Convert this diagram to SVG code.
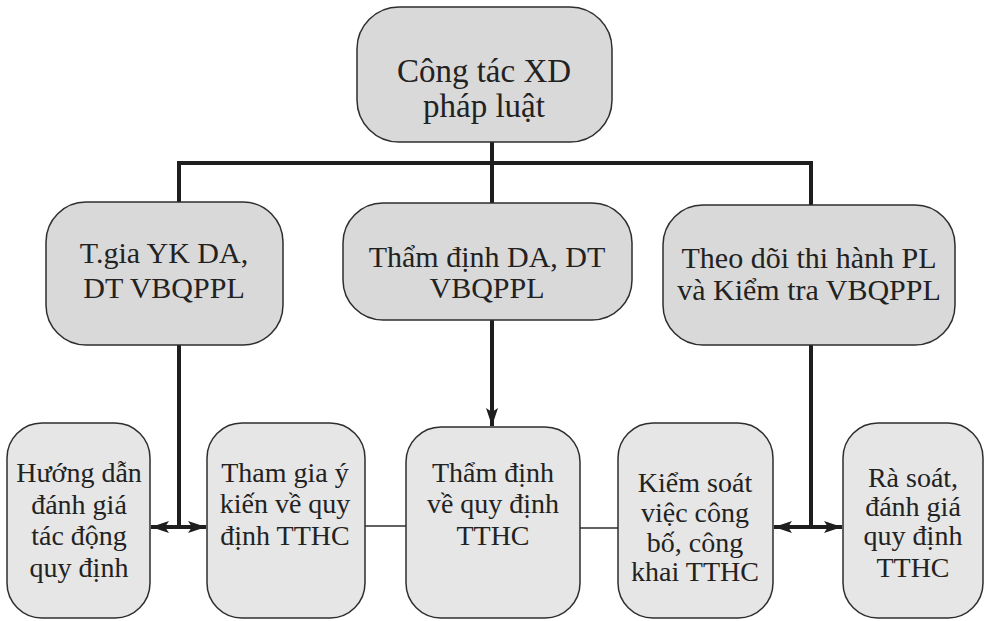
<svg xmlns="http://www.w3.org/2000/svg" width="987" height="621" viewBox="0 0 987 621">
<defs>
<marker id="ah" viewBox="0 0 18 12" refX="18" refY="6" markerWidth="18" markerHeight="12" markerUnits="userSpaceOnUse" orient="auto-start-reverse">
<path d="M0,0 L18,6 L0,12 L4,6 z" fill="#1e1e1e"/>
</marker>
</defs>
<g id="connectors" fill="none" stroke="#1e1e1e">
<line stroke-width="4" x1="492" y1="142" x2="492" y2="163"/>
<polyline stroke-width="4" points="179,202 179,163 811,163 811,205"/>
<line stroke-width="4" x1="492" y1="163" x2="492" y2="203"/>
<line stroke-width="4" x1="179" y1="345" x2="179" y2="527"/>
<line stroke-width="4" x1="151" y1="527" x2="206" y2="527" marker-start="url(#ah)" marker-end="url(#ah)"/>
<line stroke-width="4" x1="492" y1="320" x2="492" y2="426" marker-end="url(#ah)"/>
<line stroke-width="4" x1="811" y1="345" x2="811" y2="527"/>
<line stroke-width="4" x1="774" y1="527" x2="842" y2="527" marker-start="url(#ah)" marker-end="url(#ah)"/>
<line stroke-width="1.5" stroke="#2e2e2e" x1="365" y1="526" x2="406" y2="526"/>
<line stroke-width="1.5" stroke="#2e2e2e" x1="580" y1="528" x2="618" y2="528"/>
</g>
<g id="top">
<rect fill="#d9d9d9" stroke="#2e2e2e" stroke-width="1.5" x="357" y="7" width="255" height="135" rx="42"/>
<text x="484" y="82" font-size="33" fill="#222" text-anchor="middle" style="font-family:'Liberation Serif',serif">Công tác XD</text>
<text x="484" y="117" font-size="33" fill="#222" text-anchor="middle" style="font-family:'Liberation Serif',serif">pháp luật</text>
</g>
<g id="mA">
<rect fill="#d9d9d9" stroke="#2e2e2e" stroke-width="1.5" x="46" y="202" width="237" height="143" rx="40"/>
<text x="164" y="263" font-size="30" fill="#222" text-anchor="middle" style="font-family:'Liberation Serif',serif">T.gia YK DA,</text>
<text x="164" y="298" font-size="30" fill="#222" text-anchor="middle" style="font-family:'Liberation Serif',serif">DT VBQPPL</text>
</g>
<g id="mB">
<rect fill="#d9d9d9" stroke="#2e2e2e" stroke-width="1.5" x="343" y="203" width="289" height="117" rx="40"/>
<text x="487" y="267" font-size="30" fill="#222" text-anchor="middle" style="font-family:'Liberation Serif',serif">Thẩm định DA, DT</text>
<text x="487" y="298" font-size="30" fill="#222" text-anchor="middle" style="font-family:'Liberation Serif',serif">VBQPPL</text>
</g>
<g id="mC">
<rect fill="#d9d9d9" stroke="#2e2e2e" stroke-width="1.5" x="663" y="205" width="292" height="140" rx="40"/>
<text x="809" y="268" font-size="30" fill="#222" text-anchor="middle" style="font-family:'Liberation Serif',serif">Theo dõi thi hành PL</text>
<text x="809" y="300" font-size="30" fill="#222" text-anchor="middle" style="font-family:'Liberation Serif',serif">và Kiểm tra VBQPPL</text>
</g>
<g id="bD">
<rect fill="#e6e6e6" stroke="#2e2e2e" stroke-width="1.5" x="7" y="423" width="143" height="195" rx="35"/>
<text x="79" y="482" font-size="28" fill="#222" text-anchor="middle" style="font-family:'Liberation Serif',serif">Hướng dẫn</text>
<text x="79" y="514" font-size="28" fill="#222" text-anchor="middle" style="font-family:'Liberation Serif',serif">đánh giá</text>
<text x="79" y="545" font-size="28" fill="#222" text-anchor="middle" style="font-family:'Liberation Serif',serif">tác động</text>
<text x="79" y="577" font-size="28" fill="#222" text-anchor="middle" style="font-family:'Liberation Serif',serif">quy định</text>
</g>
<g id="bE">
<rect fill="#e6e6e6" stroke="#2e2e2e" stroke-width="1.5" x="207" y="423" width="158" height="195" rx="35"/>
<text x="285" y="482" font-size="28" fill="#222" text-anchor="middle" style="font-family:'Liberation Serif',serif">Tham gia ý</text>
<text x="285" y="513" font-size="28" fill="#222" text-anchor="middle" style="font-family:'Liberation Serif',serif">kiến về quy</text>
<text x="285" y="545" font-size="28" fill="#222" text-anchor="middle" style="font-family:'Liberation Serif',serif">định TTHC</text>
</g>
<g id="bF">
<rect fill="#e6e6e6" stroke="#2e2e2e" stroke-width="1.5" x="406" y="427" width="174" height="191" rx="35"/>
<text x="493" y="482" font-size="28" fill="#222" text-anchor="middle" style="font-family:'Liberation Serif',serif">Thẩm định</text>
<text x="493" y="513" font-size="28" fill="#222" text-anchor="middle" style="font-family:'Liberation Serif',serif">về quy định</text>
<text x="493" y="545" font-size="28" fill="#222" text-anchor="middle" style="font-family:'Liberation Serif',serif">TTHC</text>
</g>
<g id="bG">
<rect fill="#e6e6e6" stroke="#2e2e2e" stroke-width="1.5" x="618" y="423" width="155" height="195" rx="35"/>
<text x="695" y="492" font-size="28" fill="#222" text-anchor="middle" style="font-family:'Liberation Serif',serif">Kiểm soát</text>
<text x="695" y="522" font-size="28" fill="#222" text-anchor="middle" style="font-family:'Liberation Serif',serif">việc công</text>
<text x="695" y="552" font-size="28" fill="#222" text-anchor="middle" style="font-family:'Liberation Serif',serif">bố, công</text>
<text x="695" y="581" font-size="28" fill="#222" text-anchor="middle" style="font-family:'Liberation Serif',serif">khai TTHC</text>
</g>
<g id="bH">
<rect fill="#e6e6e6" stroke="#2e2e2e" stroke-width="1.5" x="843" y="423" width="140" height="195" rx="35"/>
<text x="913" y="487" font-size="28" fill="#222" text-anchor="middle" style="font-family:'Liberation Serif',serif">Rà soát,</text>
<text x="913" y="516" font-size="28" fill="#222" text-anchor="middle" style="font-family:'Liberation Serif',serif">đánh giá</text>
<text x="913" y="545" font-size="28" fill="#222" text-anchor="middle" style="font-family:'Liberation Serif',serif">quy định</text>
<text x="913" y="577" font-size="28" fill="#222" text-anchor="middle" style="font-family:'Liberation Serif',serif">TTHC</text>
</g>
</svg>
